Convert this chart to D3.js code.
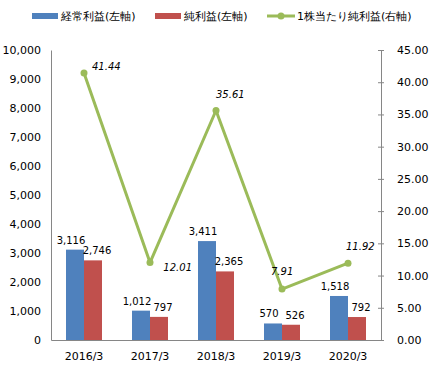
<!DOCTYPE html>
<html>
<head>
<meta charset="utf-8">
<script src="https://cdn.jsdelivr.net/npm/d3@7"></script>
<style>
  body { margin: 0; background: #fff; }
  svg text { font-family: "DejaVu Sans", Verdana, sans-serif; fill: #000; }
</style>
</head>
<body>
<svg width="435" height="385"></svg>
<script>
const years = ["2016/3", "2017/3", "2018/3", "2019/3", "2020/3"];
const ordinaryProfit = [3116, 1012, 3411, 570, 1518];
const netProfit = [2746, 797, 2365, 526, 792];
const eps = [41.44, 12.01, 35.61, 7.91, 11.92];
const leftTicks = [0, 1000, 2000, 3000, 4000, 5000, 6000, 7000, 8000, 9000, 10000];
const rightTicks = [0, 5, 10, 15, 20, 25, 30, 35, 40, 45];

const plotLeft = 51, plotRight = 381, plotTop = 50, plotBottom = 340;
const svg = d3.select("svg");

const x = d3.scaleBand().domain(years).range([plotLeft, plotRight]);
const yL = d3.scaleLinear().domain([0, 10000]).range([plotBottom, plotTop]);
const yR = d3.scaleLinear().domain([0, 45]).range([plotBottom, plotTop]);
const barW = 18;

// axes
svg.append("g")
    .attr("transform", `translate(${plotLeft},0)`)
    .call(d3.axisLeft(yL).tickValues(leftTicks).tickFormat(d3.format(",")).tickSize(0).tickPadding(10))
    .call(g => g.select(".domain").attr("stroke", "#868686"))
    .call(g => g.selectAll("text").style("font-size", "11px"));

svg.append("g")
    .attr("transform", `translate(${plotRight},0)`)
    .call(d3.axisRight(yR).tickValues(rightTicks).tickFormat(d3.format(".2f")).tickSizeOuter(0).tickPadding(10))
    .call(g => g.select(".domain").attr("stroke", "#868686"))
    .call(g => g.selectAll(".tick line").attr("stroke", "#868686").attr("x1", -3).attr("x2", 3))
    .call(g => g.selectAll("text").style("font-size", "11px"));

svg.append("g")
    .attr("transform", `translate(0,${plotBottom})`)
    .call(d3.axisBottom(x).tickSize(0).tickPadding(12))
    .call(g => g.select(".domain").attr("stroke", "#868686"))
    .call(g => g.selectAll("text").style("font-size", "11px"));

// bars
const cx = d => x(d) + x.bandwidth() / 2;
svg.append("g").selectAll("rect")
    .data(years).join("rect")
    .attr("x", (d) => cx(d) - barW)
    .attr("y", (d, i) => yL(ordinaryProfit[i]))
    .attr("width", barW)
    .attr("height", (d, i) => plotBottom - yL(ordinaryProfit[i]))
    .attr("fill", "#4F81BD");

svg.append("g").selectAll("rect")
    .data(years).join("rect")
    .attr("x", (d) => cx(d))
    .attr("y", (d, i) => yL(netProfit[i]))
    .attr("width", barW)
    .attr("height", (d, i) => plotBottom - yL(netProfit[i]))
    .attr("fill", "#C0504D");

// bar labels
svg.append("g").selectAll("text")
    .data(years).join("text")
    .attr("x", d => cx(d) - barW / 2 - 4)
    .attr("y", (d, i) => yL(ordinaryProfit[i]) - 6)
    .attr("text-anchor", "middle")
    .style("font-size", "10px")
    .text((d, i) => d3.format(",")(ordinaryProfit[i]));

svg.append("g").selectAll("text")
    .data(years).join("text")
    .attr("x", d => cx(d) + barW / 2 + 4)
    .attr("y", (d, i) => yL(netProfit[i]) - 6)
    .attr("text-anchor", "middle")
    .style("font-size", "10px")
    .text((d, i) => d3.format(",")(netProfit[i]));

// eps line
const line = d3.line()
    .x((d, i) => cx(years[i]))
    .y(d => yR(d));

svg.append("path")
    .datum(eps)
    .attr("d", line)
    .attr("fill", "none")
    .attr("stroke", "#9BBB59")
    .attr("stroke-width", 3)
    .attr("stroke-linejoin", "round");

svg.append("g").selectAll("circle")
    .data(eps).join("circle")
    .attr("cx", (d, i) => cx(years[i]))
    .attr("cy", d => yR(d))
    .attr("r", 3.5)
    .attr("fill", "#9BBB59");

// eps labels (offsets roughly as placed in the original)
const epsOffset = [[8, -3], [42, 8], [0, -13], [-11, -14], [-2, -13]];
svg.append("g").selectAll("text")
    .data(eps).join("text")
    .attr("x", (d, i) => cx(years[i]) + epsOffset[i][0])
    .attr("y", (d, i) => yR(d) + epsOffset[i][1])
    .attr("text-anchor", (d, i) => i === 1 ? "end" : "start")
    .style("font-size", "10px")
    .style("font-style", "italic")
    .text(d => d3.format(".2f")(d));

// legend
const legend = svg.append("g").style("font-size", "11px");
legend.append("rect").attr("x", 32).attr("y", 13).attr("width", 26).attr("height", 6).attr("fill", "#4F81BD");
legend.append("text").attr("x", 61).attr("y", 20).text("経常利益(左軸)");
legend.append("rect").attr("x", 155).attr("y", 13).attr("width", 26).attr("height", 6).attr("fill", "#C0504D");
legend.append("text").attr("x", 184).attr("y", 20).text("純利益(左軸)");
legend.append("line").attr("x1", 267).attr("x2", 295).attr("y1", 16).attr("y2", 16)
    .attr("stroke", "#9BBB59").attr("stroke-width", 3);
legend.append("circle").attr("cx", 281).attr("cy", 16).attr("r", 3.5).attr("fill", "#9BBB59");
legend.append("text").attr("x", 297).attr("y", 20).text("1株当たり純利益(右軸)");
</script>
</body>
</html>
